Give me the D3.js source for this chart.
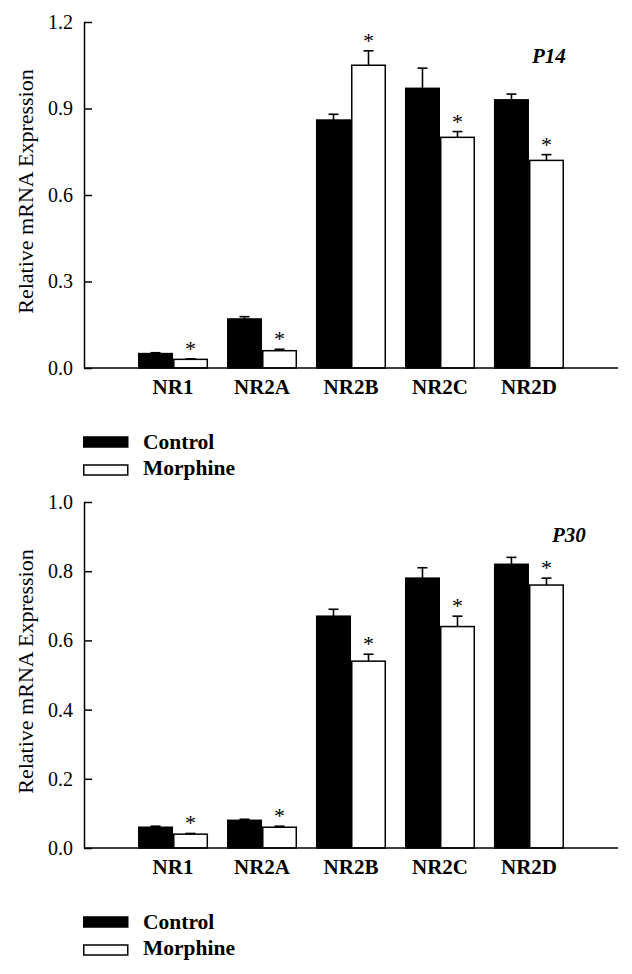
<!DOCTYPE html>
<html>
<head>
<meta charset="utf-8">
<script src="https://cdn.jsdelivr.net/npm/d3@7"></script>
<style>
  html, body { margin: 0; padding: 0; background: #fff; }
  svg { display: block; }
  text { font-family: "Liberation Serif", "DejaVu Serif", serif; fill: #000; }
</style>
</head>
<body>
<svg id="chart" width="632" height="974"></svg>
<script>
// ---------- data ----------
const categories = ["NR1", "NR2A", "NR2B", "NR2C", "NR2D"];
const seriesNames = ["Control", "Morphine"];

const p14Control = [0.05, 0.17, 0.86, 0.97, 0.93];
const p14ControlErr = [0.003, 0.008, 0.02, 0.07, 0.02];
const p14Morphine = [0.03, 0.06, 1.05, 0.80, 0.72];
const p14MorphineErr = [0.002, 0.005, 0.05, 0.02, 0.02];
const p14MorphineSig = [true, true, true, true, true];
const p14Ticks = [0.0, 0.3, 0.6, 0.9, 1.2];

const p30Control = [0.06, 0.08, 0.67, 0.78, 0.82];
const p30ControlErr = [0.003, 0.003, 0.02, 0.03, 0.02];
const p30Morphine = [0.04, 0.06, 0.54, 0.64, 0.76];
const p30MorphineErr = [0.002, 0.003, 0.02, 0.03, 0.02];
const p30MorphineSig = [true, true, true, true, true];
const p30Ticks = [0.0, 0.2, 0.4, 0.6, 0.8, 1.0];

const yLabel = "Relative mRNA Expression";

// ---------- drawing ----------
const svg = d3.select("#chart");

function panel(opts) {
  const g = svg.append("g");
  const left = 84, right = 618;
  const x = d3.scaleBand().domain(categories).range([left, right])
    .paddingInner(0.213).paddingOuter(0.607);
  const xs = d3.scaleBand().domain(seriesNames).range([0, x.bandwidth()]);
  const y = d3.scaleLinear().domain(opts.domain).range([opts.bottom, opts.top]);

  const series = [
    { name: "Control", vals: opts.control, err: opts.controlErr, sig: null, fill: "#000" },
    { name: "Morphine", vals: opts.morphine, err: opts.morphineErr, sig: opts.morphineSig, fill: "#fff" }
  ];

  series.forEach(s => {
    const gs = g.append("g");
    categories.forEach((c, i) => {
      const bx = x(c) + xs(s.name);
      const bw = xs.bandwidth();
      const cx = bx + bw / 2;
      // error bar (upper only)
      const eTop = y(s.vals[i] + s.err[i]);
      gs.append("line")
        .attr("x1", cx).attr("x2", cx)
        .attr("y1", y(s.vals[i])).attr("y2", eTop)
        .attr("stroke", "#000").attr("stroke-width", 1.6);
      gs.append("line")
        .attr("x1", cx - 5).attr("x2", cx + 5)
        .attr("y1", eTop).attr("y2", eTop)
        .attr("stroke", "#000").attr("stroke-width", 1.6);
      // bar
      gs.append("rect")
        .attr("x", bx + 0.75).attr("width", bw - 1.5)
        .attr("y", y(s.vals[i])).attr("height", y(0) - y(s.vals[i]))
        .attr("fill", s.fill).attr("stroke", "#000").attr("stroke-width", 1.5);
      if (s.sig && s.sig[i]) {
        gs.append("text")
          .attr("x", cx).attr("y", eTop - 3)
          .attr("text-anchor", "middle")
          .attr("font-size", 22)
          .text("*");
      }
    });
  });

  // y axis
  const yAxis = d3.axisLeft(y).tickValues(opts.ticks)
    .tickFormat(d3.format(".1f")).tickSizeInner(-8).tickSizeOuter(0).tickPadding(11);
  const ya = g.append("g").attr("transform", `translate(${left},0)`).call(yAxis);
  ya.select(".domain").attr("stroke", "#000").attr("stroke-width", 1.5);
  ya.selectAll(".tick line").attr("stroke", "#000").attr("stroke-width", 1.5);
  ya.selectAll(".tick text")
    .attr("font-family", "Liberation Serif, DejaVu Serif, serif")
    .attr("font-size", 20).attr("fill", "#000");

  // x axis line
  const xAxis = d3.axisBottom(x).tickSize(0).tickPadding(0);
  const xa = g.append("g").attr("transform", `translate(0,${y(0)})`).call(xAxis);
  xa.select(".domain").attr("stroke", "#000").attr("stroke-width", 1.5)
    .attr("d", `M${left},0H${right}`);
  xa.selectAll(".tick text")
    .attr("font-family", "Liberation Serif, DejaVu Serif, serif")
    .attr("font-size", 21).attr("font-weight", "bold").attr("fill", "#000")
    .attr("dy", null).attr("y", 26);

  // y label
  g.append("text")
    .attr("transform", `translate(33,${(opts.top + opts.bottom) / 2 - 3.5}) rotate(-90)`)
    .attr("text-anchor", "middle")
    .attr("font-size", 22)
    .text(yLabel);

  // panel title
  g.append("text")
    .attr("x", opts.titleX).attr("y", opts.top + opts.titleDy)
    .attr("font-size", 21).attr("font-weight", "bold").attr("font-style", "italic")
    .text(opts.title);

  // legend
  const lg = g.append("g").attr("transform", `translate(83,${y(0)})`);
  series.forEach((s, i) => {
    lg.append("rect")
      .attr("x", 0.75).attr("y", 69 + i * 28)
      .attr("width", 44).attr("height", 10)
      .attr("fill", s.fill).attr("stroke", "#000").attr("stroke-width", 1.5);
    lg.append("text")
      .attr("x", 60).attr("y", 81 + i * 25.5)
      .attr("font-size", 21.5).attr("font-weight", "bold")
      .text(s.name);
  });
}

panel({
  top: 22, bottom: 368, domain: [0, 1.2], ticks: p14Ticks,
  control: p14Control, controlErr: p14ControlErr,
  morphine: p14Morphine, morphineErr: p14MorphineErr, morphineSig: p14MorphineSig,
  title: "P14", titleX: 532, titleDy: 41
});
panel({
  top: 502, bottom: 848, domain: [0, 1.0], ticks: p30Ticks,
  control: p30Control, controlErr: p30ControlErr,
  morphine: p30Morphine, morphineErr: p30MorphineErr, morphineSig: p30MorphineSig,
  title: "P30", titleX: 552, titleDy: 40
});
</script>
</body>
</html>
